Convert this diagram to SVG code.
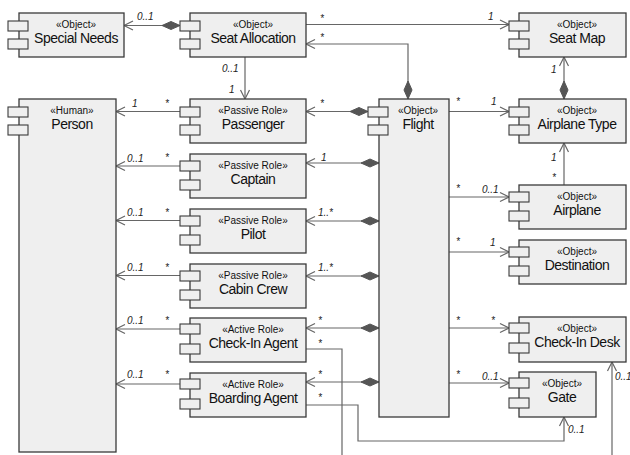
<svg xmlns="http://www.w3.org/2000/svg" width="630" height="455" viewBox="0 0 630 455">
<style>
.box{fill:#efefef;stroke:#3a3a3a;stroke-width:1.3}
.port{fill:#efefef;stroke:#3a3a3a;stroke-width:1.1}
.st{font-family:"Liberation Sans",Arial,sans-serif;font-size:10px;fill:#111;text-anchor:middle}
.nm{font-family:"Liberation Sans",Arial,sans-serif;font-size:14px;fill:#111;text-anchor:middle;letter-spacing:-0.5px}
.m{font-family:"Liberation Sans",Arial,sans-serif;font-size:10px;font-style:italic;fill:#222}
.c{fill:none;stroke:#666;stroke-width:1.2}
.a{marker-end:url(#arr)}
.d{marker-start:url(#dia)}
</style>
<defs>
<marker id="arr" markerUnits="userSpaceOnUse" markerWidth="12" markerHeight="12" refX="0" refY="0" orient="auto" overflow="visible">
<path d="M-9,-4.5 L0,0 L-9,4.5" fill="none" stroke="#666" stroke-width="1.2"/>
</marker>
<marker id="dia" markerUnits="userSpaceOnUse" markerWidth="20" markerHeight="10" refX="0" refY="0" orient="auto" overflow="visible">
<path d="M0,0 L9,-4 L18,0 L9,4 Z" fill="#555" stroke="#555" stroke-width="1"/>
</marker>
</defs>

<g id="connectors">
<path class="c a d" d="M180,25.5 L124,25.5"/>
<path class="c a" d="M306,24.5 L509,24.5"/>
<path class="c a d" d="M408,99 L408,44 L306,44"/>
<path class="c a" d="M245,57 L245,99"/>
<path class="c a" d="M180,111.5 L116,111.5"/>
<path class="c a d" d="M368,111.5 L306,111.5"/>
<path class="c a" d="M449,111.5 L509,111.5"/>
<path class="c a d" d="M564,99 L564,57"/>
<path class="c a" d="M564,185 L564,143"/>
<path class="c a" d="M449,197 L509,197"/>
<path class="c a" d="M449,252 L509,252"/>
<path class="c a" d="M449,328 L509,328"/>
<path class="c a" d="M449,383 L509,383"/>
<path class="c a d" d="M379,163 L306,163"/>
<path class="c a d" d="M379,221 L306,221"/>
<path class="c a d" d="M379,276 L306,276"/>
<path class="c a d" d="M379,328 L306,328"/>
<path class="c a d" d="M379,382 L306,382"/>
<path class="c a" d="M180,166 L116,166"/>
<path class="c a" d="M180,220.5 L116,220.5"/>
<path class="c a" d="M180,275.5 L116,275.5"/>
<path class="c a" d="M180,329 L116,329"/>
<path class="c a" d="M180,384 L116,384"/>
<path class="c" d="M306,349 L342,349 L342,456"/>
<path class="c a" d="M612,456 L612,362"/>
<path class="c a" d="M306,405 L358,405 L358,441 L564,441 L564,417"/>

<text class="m" x="137" y="20">0..1</text>
<text class="m" x="320" y="22">*</text>
<text class="m" x="488" y="20">1</text>
<text class="m" x="320" y="41">*</text>
<text class="m" x="222" y="72">0..1</text>
<text class="m" x="229" y="93">1</text>
<text class="m" x="132" y="107">1</text>
<text class="m" x="165" y="107">*</text>
<text class="m" x="320" y="107">*</text>
<text class="m" x="456" y="105">*</text>
<text class="m" x="491" y="105">1</text>
<text class="m" x="551" y="73">1</text>
<text class="m" x="551" y="161">1</text>
<text class="m" x="552" y="181">*</text>
<text class="m" x="456" y="192">*</text>
<text class="m" x="482" y="193">0..1</text>
<text class="m" x="456" y="245">*</text>
<text class="m" x="490" y="246">1</text>
<text class="m" x="321" y="161">1</text>
<text class="m" x="318" y="216">1..*</text>
<text class="m" x="318" y="271">1..*</text>
<text class="m" x="127" y="162">0..1</text>
<text class="m" x="165" y="161">*</text>
<text class="m" x="127" y="216">0..1</text>
<text class="m" x="165" y="216">*</text>
<text class="m" x="127" y="271">0..1</text>
<text class="m" x="165" y="271">*</text>
<text class="m" x="127" y="324">0..1</text>
<text class="m" x="165" y="324">*</text>
<text class="m" x="127" y="378">0..1</text>
<text class="m" x="165" y="378">*</text>
<text class="m" x="318" y="324">*</text>
<text class="m" x="318" y="347">*</text>
<text class="m" x="318" y="378">*</text>
<text class="m" x="318" y="401">*</text>
<text class="m" x="456" y="324">*</text>
<text class="m" x="491" y="324">*</text>
<text class="m" x="456" y="378">*</text>
<text class="m" x="482" y="380">0..1</text>
<text class="m" x="568" y="433">0..1</text>
<text class="m" x="615" y="380">0..1</text>
</g>

<g id="special-needs">
<rect class="box" x="19" y="13" width="105" height="44"/>
<rect class="port" x="8" y="21" width="20" height="10"/>
<rect class="port" x="8" y="39" width="20" height="10"/>
<text class="st" x="76" y="28">«Object»</text>
<text class="nm" x="76" y="43">Special Needs</text>
</g>

<g id="seat-allocation">
<rect class="box" x="190" y="13" width="116" height="44"/>
<rect class="port" x="180" y="21" width="20" height="10"/>
<rect class="port" x="180" y="39" width="20" height="10"/>
<text class="st" x="253" y="28">«Object»</text>
<text class="nm" x="253" y="43">Seat Allocation</text>
</g>

<g id="seat-map">
<rect class="box" x="519" y="13" width="107" height="44"/>
<rect class="port" x="509" y="21" width="20" height="10"/>
<rect class="port" x="509" y="39" width="20" height="10"/>
<text class="st" x="577" y="28">«Object»</text>
<text class="nm" x="577" y="43">Seat Map</text>
</g>

<g id="person">
<rect class="box" x="19" y="99" width="97" height="353"/>
<rect class="port" x="8" y="107" width="20" height="10"/>
<rect class="port" x="8" y="125" width="20" height="10"/>
<text class="st" x="72" y="114">«Human»</text>
<text class="nm" x="72" y="129">Person</text>
</g>

<g id="passenger">
<rect class="box" x="190" y="99" width="116" height="44"/>
<rect class="port" x="180" y="107" width="20" height="10"/>
<rect class="port" x="180" y="125" width="20" height="10"/>
<text class="st" x="253" y="114">«Passive Role»</text>
<text class="nm" x="253" y="129">Passenger</text>
</g>

<g id="flight">
<rect class="box" x="379" y="99" width="70" height="318"/>
<rect class="port" x="368" y="107" width="20" height="10"/>
<rect class="port" x="368" y="125" width="20" height="10"/>
<text class="st" x="418" y="114">«Object»</text>
<text class="nm" x="418" y="129">Flight</text>
</g>

<g id="airplane-type">
<rect class="box" x="519" y="99" width="107" height="44"/>
<rect class="port" x="509" y="107" width="20" height="10"/>
<rect class="port" x="509" y="125" width="20" height="10"/>
<text class="st" x="577" y="114">«Object»</text>
<text class="nm" x="577" y="129">Airplane Type</text>
</g>

<g id="captain">
<rect class="box" x="190" y="154" width="116" height="44"/>
<rect class="port" x="180" y="161" width="20" height="10"/>
<rect class="port" x="180" y="180" width="20" height="10"/>
<text class="st" x="253" y="169">«Passive Role»</text>
<text class="nm" x="253" y="184">Captain</text>
</g>

<g id="pilot">
<rect class="box" x="190" y="209" width="116" height="44"/>
<rect class="port" x="180" y="216" width="20" height="10"/>
<rect class="port" x="180" y="235" width="20" height="10"/>
<text class="st" x="253" y="224">«Passive Role»</text>
<text class="nm" x="253" y="239">Pilot</text>
</g>

<g id="cabin-crew">
<rect class="box" x="190" y="264" width="116" height="44"/>
<rect class="port" x="180" y="271" width="20" height="10"/>
<rect class="port" x="180" y="290" width="20" height="10"/>
<text class="st" x="253" y="279">«Passive Role»</text>
<text class="nm" x="253" y="294">Cabin Crew</text>
</g>

<g id="check-in-agent">
<rect class="box" x="190" y="318" width="116" height="44"/>
<rect class="port" x="180" y="324" width="20" height="10"/>
<rect class="port" x="180" y="344" width="20" height="10"/>
<text class="st" x="253" y="333">«Active Role»</text>
<text class="nm" x="253" y="348">Check-In Agent</text>
</g>

<g id="boarding-agent">
<rect class="box" x="190" y="373" width="116" height="44"/>
<rect class="port" x="180" y="379" width="20" height="10"/>
<rect class="port" x="180" y="399" width="20" height="10"/>
<text class="st" x="253" y="388">«Active Role»</text>
<text class="nm" x="253" y="403">Boarding Agent</text>
</g>

<g id="airplane">
<rect class="box" x="519" y="185" width="107" height="44"/>
<rect class="port" x="509" y="192" width="20" height="10"/>
<rect class="port" x="509" y="211" width="20" height="10"/>
<text class="st" x="577" y="200">«Object»</text>
<text class="nm" x="577" y="215">Airplane</text>
</g>

<g id="destination">
<rect class="box" x="519" y="240" width="107" height="44"/>
<rect class="port" x="509" y="247" width="20" height="10"/>
<rect class="port" x="509" y="266" width="20" height="10"/>
<text class="st" x="577" y="255">«Object»</text>
<text class="nm" x="577" y="270">Destination</text>
</g>

<g id="check-in-desk">
<rect class="box" x="519" y="317" width="107" height="45"/>
<rect class="port" x="509" y="323" width="20" height="10"/>
<rect class="port" x="509" y="343" width="20" height="10"/>
<text class="st" x="577" y="332">«Object»</text>
<text class="nm" x="577" y="347">Check-In Desk</text>
</g>

<g id="gate">
<rect class="box" x="519" y="372" width="77" height="45"/>
<rect class="port" x="509" y="378" width="20" height="10"/>
<rect class="port" x="509" y="398" width="20" height="10"/>
<text class="st" x="562" y="387">«Object»</text>
<text class="nm" x="562" y="402">Gate</text>
</g>
</svg>
